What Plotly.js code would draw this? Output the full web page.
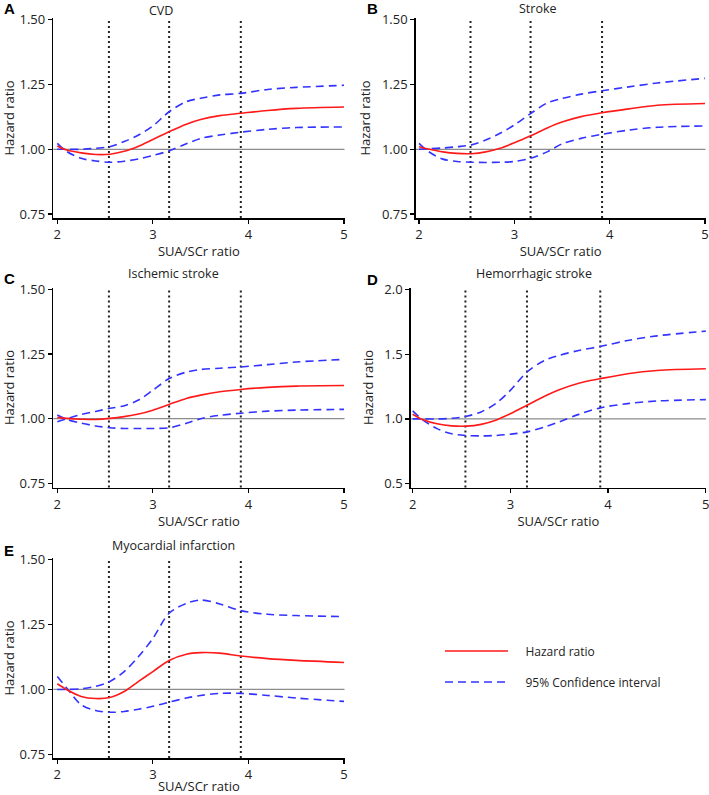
<!DOCTYPE html>
<html>
<head>
<meta charset="utf-8">
<script src="https://cdn.plot.ly/plotly-3.0.1.min.js"></script>
<style>
  body { margin: 0; background: #fff; }
  #grafica { width: 709px; height: 795px; }
</style>
</head>
<body>
<div id="grafica"></div>
<script>
// valores (SUA/SCr ratio)
const ratio = [2, 2.1, 2.25, 2.4, 2.55, 2.7, 2.85, 3.0, 3.17, 3.35, 3.5, 3.7, 3.92, 4.2, 4.5, 5];
const cortes = [2.54, 3.17, 3.92];

const paneles = ["CVD", "Stroke", "Ischemic stroke", "Hemorrhagic stroke", "Myocardial infarction"];
const letras = ["A", "B", "C", "D", "E"];

const hrCVD   = [1.013, 0.997, 0.986, 0.980, 0.981, 0.992, 1.012, 1.038, 1.068, 1.097, 1.115, 1.130, 1.139, 1.150, 1.158, 1.163];
const supCVD  = [1.000, 1.000, 1.000, 1.004, 1.010, 1.030, 1.055, 1.090, 1.145, 1.184, 1.197, 1.210, 1.216, 1.231, 1.239, 1.247];
const infCVD  = [1.023, 0.991, 0.965, 0.955, 0.950, 0.954, 0.963, 0.976, 0.994, 1.021, 1.042, 1.055, 1.066, 1.077, 1.084, 1.086];

const hrStroke  = [1.010, 1.001, 0.990, 0.984, 0.983, 0.990, 1.004, 1.025, 1.052, 1.083, 1.105, 1.126, 1.141, 1.156, 1.170, 1.177];
const supStroke = [1.000, 1.002, 1.005, 1.010, 1.017, 1.036, 1.062, 1.094, 1.138, 1.180, 1.196, 1.213, 1.226, 1.241, 1.256, 1.274];
const infStroke = [1.023, 0.991, 0.962, 0.953, 0.950, 0.949, 0.950, 0.953, 0.965, 0.991, 1.021, 1.042, 1.058, 1.074, 1.085, 1.090];

const hrIsq  = [1.005, 1.001, 0.998, 0.997, 1.001, 1.008, 1.018, 1.033, 1.055, 1.078, 1.091, 1.104, 1.113, 1.121, 1.126, 1.128];
const supIsq = [0.988, 1.000, 1.016, 1.028, 1.040, 1.050, 1.072, 1.110, 1.155, 1.180, 1.190, 1.195, 1.200, 1.209, 1.219, 1.229];
const infIsq = [1.014, 0.997, 0.983, 0.972, 0.965, 0.962, 0.962, 0.962, 0.965, 0.982, 1.000, 1.013, 1.021, 1.029, 1.033, 1.036];

const hrHem  = [1.036, 0.995, 0.962, 0.946, 0.944, 0.958, 0.990, 1.040, 1.105, 1.175, 1.225, 1.275, 1.310, 1.349, 1.374, 1.387];
const supHem = [1.000, 1.000, 1.000, 1.005, 1.020, 1.054, 1.118, 1.220, 1.362, 1.451, 1.490, 1.528, 1.559, 1.605, 1.641, 1.677];
const infHem = [1.062, 0.995, 0.925, 0.885, 0.872, 0.869, 0.872, 0.882, 0.900, 0.938, 0.977, 1.035, 1.085, 1.118, 1.138, 1.149];

const hrMI  = [1.022, 0.999, 0.973, 0.965, 0.969, 0.992, 1.031, 1.069, 1.112, 1.136, 1.142, 1.140, 1.129, 1.119, 1.112, 1.104];
const supMI = [1.000, 1.000, 1.003, 1.012, 1.031, 1.069, 1.127, 1.197, 1.294, 1.332, 1.345, 1.330, 1.304, 1.290, 1.285, 1.281];
const infMI = [1.050, 1.005, 0.941, 0.919, 0.912, 0.915, 0.924, 0.935, 0.951, 0.967, 0.977, 0.985, 0.985, 0.977, 0.967, 0.954];

const ticksY = [0.75, 1.00, 1.25, 1.50];
const ticksYHem = [0.5, 1.0, 1.5, 2.0];
const ticksX = [2, 3, 4, 5];

const hr = [hrCVD, hrStroke, hrIsq, hrHem, hrMI];
const sup = [supCVD, supStroke, supIsq, supHem, supMI];
const inf = [infCVD, infStroke, infIsq, infHem, infMI];

const W = 709, H = 795;
// zona de dibujo de cada panel, en píxeles [izq, der, arriba, abajo]
const cajas = [
  [53.3, 344.5, 18, 218],
  [415.7, 705.5, 18, 218],
  [53.3, 344.5, 287.5, 487.5],
  [410.7, 706, 287.5, 487.5],
  [53.3, 344.5, 558, 758]
];
const rangosX = [[1.958, 5.005], [1.965, 5.005], [1.958, 5.005], [1.98, 5.002], [1.958, 5.005]];
const rangosY = [[0.7346, 1.507], [0.7346, 1.507], [0.734, 1.507], [0.4707, 2.014], [0.7357, 1.507]];
const posTitulo = [[161, 11], [538, 9], [173, 274], [534, 274], [173, 545]];
const posLetra = [[9, 9], [372, 9], [9, 279], [372, 280], [9, 550]];

const fuente = "'Open Sans', 'Noto Sans', sans-serif";
const rojo = "#ff1a1a";
const azul = "#3333ff";
const sangria = "\u00a0\u00a0\u00a0\u00a0";

const data = [];
const layout = {
  width: W,
  height: H,
  margin: { l: 0, r: 0, t: 0, b: 0 },
  paper_bgcolor: "#fff",
  plot_bgcolor: "#fff",
  font: { family: fuente, size: 12, color: "#222" },
  shapes: [],
  annotations: [],
  legend: {
    x: 440 / W, y: 1 - 651 / H, xanchor: "left", yanchor: "middle",
    itemwidth: 63, font: { size: 12, color: "#222" }, bgcolor: "rgba(0,0,0,0)"
  },
  legend2: {
    x: 440 / W, y: 1 - 682 / H, xanchor: "left", yanchor: "middle",
    itemwidth: 63, font: { size: 12, color: "#222" }, bgcolor: "rgba(0,0,0,0)"
  }
};

for (let i = 0; i < 5; i++) {
  const n = i === 0 ? "" : String(i + 1);
  const c = cajas[i];
  const ultimo = i === 4;

  data.push({
    x: ratio, y: sup[i], xaxis: "x" + n, yaxis: "y" + n,
    type: "scatter", mode: "lines", name: sangria + "95% Confidence interval",
    line: { color: azul, width: 1.6, dash: "8px,5px", shape: "spline", smoothing: 0.9 },
    showlegend: ultimo, legend: "legend2", hoverinfo: "skip"
  });
  data.push({
    x: ratio, y: inf[i], xaxis: "x" + n, yaxis: "y" + n,
    type: "scatter", mode: "lines", name: "95% Confidence interval",
    line: { color: azul, width: 1.6, dash: "8px,5px", shape: "spline", smoothing: 0.9 },
    showlegend: false, hoverinfo: "skip"
  });
  data.push({
    x: ratio, y: hr[i], xaxis: "x" + n, yaxis: "y" + n,
    type: "scatter", mode: "lines", name: sangria + "Hazard ratio",
    line: { color: rojo, width: 1.6, shape: "spline", smoothing: 0.9 },
    showlegend: ultimo, legend: "legend", hoverinfo: "skip"
  });

  layout["xaxis" + n] = {
    domain: [c[0] / W, c[1] / W],
    anchor: "y" + n,
    range: rangosX[i],
    tickvals: ticksX,
    ticks: "outside", ticklen: 4, tickwidth: 1.2, tickcolor: "#000",
    ticklabeloverflow: "allow",
    showline: true, linecolor: "#000", linewidth: 1.5,
    showgrid: false, zeroline: false,
    tickfont: { size: 13, color: "#222" },
    title: { text: "SUA/SCr ratio", font: { size: 13, color: "#222" }, standoff: 5 }
  };
  layout["yaxis" + n] = {
    domain: [1 - c[3] / H, 1 - c[2] / H],
    anchor: "x" + n,
    range: rangosY[i],
    tickvals: i === 3 ? ticksYHem : ticksY,
    tickformat: i === 3 ? ".1f" : ".2f",
    ticks: "outside", ticklen: 4, tickwidth: 1.2, tickcolor: "#000",
    showline: true, linecolor: "#000", linewidth: 1.5,
    showgrid: false, zeroline: false,
    tickfont: { size: 13, color: "#222" },
    title: { text: "Hazard ratio", font: { size: 13, color: "#222" }, standoff: 8 }
  };

  // línea de referencia HR = 1
  layout.shapes.push({
    type: "line", xref: "x" + n + " domain", yref: "y" + n,
    x0: 0, x1: 1, y0: 1, y1: 1,
    line: { color: "#8c8c8c", width: 1.3 }, layer: "below"
  });
  // cortes (líneas punteadas)
  cortes.forEach(function (v) {
    layout.shapes.push({
      type: "line", xref: "x" + n, yref: "y" + n + " domain",
      x0: v, x1: v, y0: 0, y1: 0.99,
      line: { color: "#222", width: 2, dash: "2px,3px" }, layer: "below"
    });
  });

  layout.annotations.push({
    text: paneles[i], xref: "paper", yref: "paper",
    x: posTitulo[i][0] / W, y: 1 - posTitulo[i][1] / H,
    xanchor: "center", yanchor: "middle", showarrow: false,
    font: { size: 12.5, color: "#222" }
  });
  layout.annotations.push({
    text: "<b>" + letras[i] + "</b>", xref: "paper", yref: "paper",
    x: posLetra[i][0] / W, y: 1 - posLetra[i][1] / H,
    xanchor: "center", yanchor: "middle", showarrow: false,
    font: { family: "'Liberation Sans', Arial, sans-serif", size: 15, color: "#000" }
  });
}

Plotly.newPlot("grafica", data, layout, { staticPlot: true });
</script>
</body>
</html>
